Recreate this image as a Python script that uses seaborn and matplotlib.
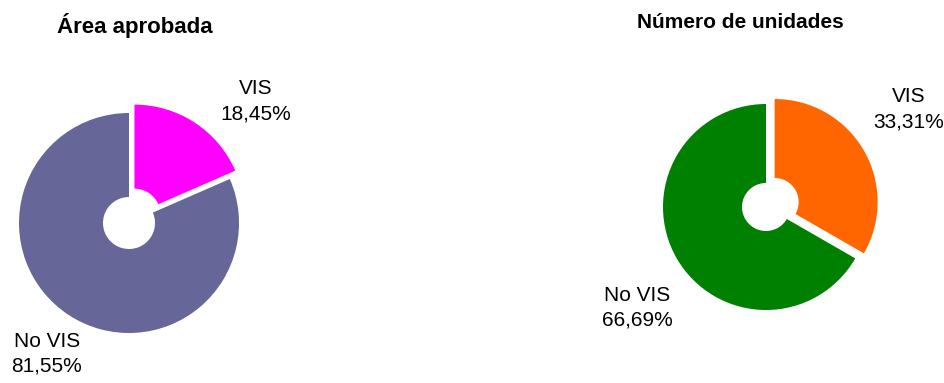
import matplotlib
matplotlib.use("Agg")
import matplotlib.pyplot as plt
import seaborn as sns

# Data
CATEGORIES = ["VIS", "No VIS"]
AREA_PCT = [18.45, 81.55]
UNITS_PCT = [33.31, 66.69]
TITLES = ["Área aprobada", "Número de unidades"]
AREA_COLORS = ["#FF00FF", "#666699"]
UNITS_COLORS = ["#FF6600", "#008000"]

sns.set_theme(style="white")
plt.rcParams["font.family"] = ["Liberation Sans", "DejaVu Sans"]

W, H = 945, 383
fig = plt.figure(figsize=(W / 100, H / 100), dpi=100)
ax = fig.add_axes([0, 0, 1, 1])


def fmt(v):
    return f"{v:.2f}".replace(".", ",") + "%"


# layout in pixel units (y measured from top)
charts = [
    dict(values=AREA_PCT, colors=AREA_COLORS, center=(129, 223), r=110, hole=26,
         title_xy=(135, 25), title_size=16,
         label_xy=[(256, 101), (47, 354)]),
    dict(values=UNITS_PCT, colors=UNITS_COLORS, center=(766, 207), r=103, hole=24,
         title_xy=(740, 22), title_size=15,
         label_xy=[(909, 109), (637, 308)]),
]

for title, ch in zip(TITLES, charts):
    cx, cy = ch["center"]
    ax.pie(ch["values"], colors=ch["colors"], startangle=90, counterclock=False,
           center=(cx, H - cy), radius=ch["r"], explode=[10, 0],
           wedgeprops=dict(width=ch["r"] - ch["hole"], linewidth=0))
    tx, ty = ch["title_xy"]
    ax.text(tx, H - ty, title, ha="center", va="center", fontsize=ch["title_size"],
            fontweight="bold", color="black")
    for cat, v, (lx, ly) in zip(CATEGORIES, ch["values"], ch["label_xy"]):
        ax.text(lx, H - ly, f"{cat}\n{fmt(v)}", ha="center", va="center",
                fontsize=15, linespacing=1.4, color="black")

ax.set_xlim(0, W)
ax.set_ylim(0, H)
ax.set_aspect("equal")
ax.axis("off")

fig.savefig("out.png", dpi=100, facecolor="white")
